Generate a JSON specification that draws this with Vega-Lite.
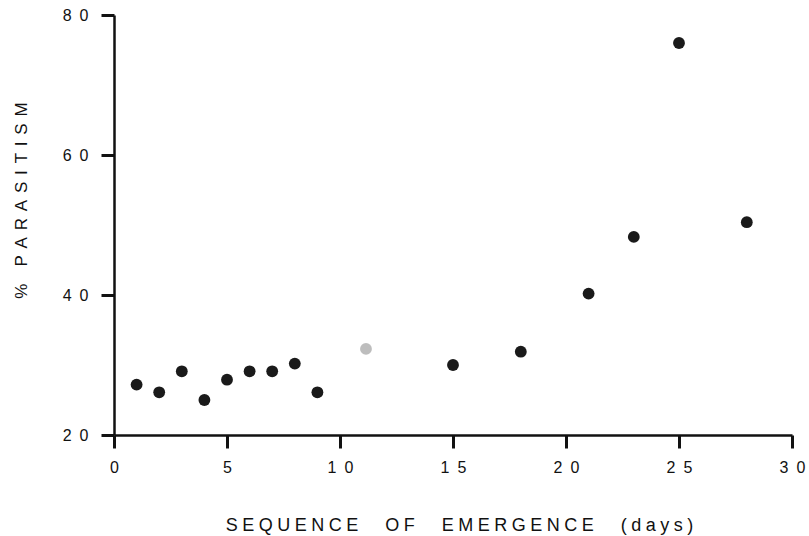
{
  "$schema": "https://vega.github.io/schema/vega-lite/v6.json",
  "width": 678,
  "height": 420,
  "autosize": {"type": "none"},
  "padding": {"left": 114, "top": 15, "right": 17, "bottom": 101},
  "background": "white",
  "config": {"view": {"stroke": null}},
  "data": {"values": [
    {"day": 1, "parasitism": 27.2, "kind": "main"},
    {"day": 2, "parasitism": 26.1, "kind": "main"},
    {"day": 3, "parasitism": 29.1, "kind": "main"},
    {"day": 4, "parasitism": 25.0, "kind": "main"},
    {"day": 5, "parasitism": 27.9, "kind": "main"},
    {"day": 6, "parasitism": 29.1, "kind": "main"},
    {"day": 7, "parasitism": 29.1, "kind": "main"},
    {"day": 8, "parasitism": 30.2, "kind": "main"},
    {"day": 9, "parasitism": 26.1, "kind": "main"},
    {"day": 11.15, "parasitism": 32.3, "kind": "faint"},
    {"day": 15, "parasitism": 30.0, "kind": "main"},
    {"day": 18, "parasitism": 31.9, "kind": "main"},
    {"day": 21, "parasitism": 40.2, "kind": "main"},
    {"day": 23, "parasitism": 48.3, "kind": "main"},
    {"day": 25, "parasitism": 76.0, "kind": "main"},
    {"day": 28, "parasitism": 50.4, "kind": "main"}
  ]},
  "mark": {"type": "point", "filled": true, "opacity": 1, "size": 140, "shape": "circle"},
  "encoding": {
    "x": {
      "field": "day", "type": "quantitative",
      "scale": {"domain": [0, 30], "nice": false, "zero": false},
      "axis": {
        "values": [0, 5, 10, 15, 20, 25, 30],
        "grid": false,
        "domainColor": "#111", "domainWidth": 2.5,
        "tickColor": "#111", "tickWidth": 3, "tickSize": 13,
        "labelFont": "Liberation Sans", "labelFontSize": 16, "labelColor": "#111",
        "labelPadding": 11, "labelFlush": false,
        "labelExpr": "join(split(datum.label, ''), '\u2002')",
        "title": "S\u2005E\u2005Q\u2005U\u2005E\u2005N\u2005C\u2005E\u2005\u2003\u2005O\u2005F\u2005\u2003\u2005E\u2005M\u2005E\u2005R\u2005G\u2005E\u2005N\u2005C\u2005E\u2005\u2003\u2005(\u2005d\u2005a\u2005y\u2005s\u2005)",
        "titleFont": "Liberation Sans", "titleFontSize": 18, "titleFontWeight": "normal", "titleColor": "#111",
        "titleX": 345, "titleY": 90, "titleAlign": "center", "titleBaseline": "middle", "titleAnchor": null
      }
    },
    "y": {
      "field": "parasitism", "type": "quantitative",
      "scale": {"domain": [20, 80], "nice": false, "zero": false},
      "axis": {
        "values": [20, 40, 60, 80],
        "grid": false,
        "domainColor": "#111", "domainWidth": 2.5,
        "tickColor": "#111", "tickWidth": 3, "tickSize": 13,
        "labelFont": "Liberation Sans", "labelFontSize": 16, "labelColor": "#111",
        "labelPadding": 13, "labelFlush": false,
        "labelExpr": "join(split(datum.label, ''), '\u2002')",
        "title": "%\u2003P\u2009\u2009A\u2009\u2009R\u2009\u2009A\u2009\u2009S\u2009\u2009I\u2009\u2009T\u2009\u2009I\u2009\u2009S\u2009\u2009M",
        "titleFont": "Liberation Sans", "titleFontSize": 17, "titleFontWeight": "normal", "titleColor": "#111",
        "titleAngle": -90, "titleX": -93, "titleY": 185, "titleAlign": "center", "titleBaseline": "middle"
      }
    },
    "color": {
      "field": "kind", "type": "nominal",
      "scale": {"domain": ["main", "faint"], "range": ["#1a1a1a", "#bdbdbd"]},
      "legend": null
    }
  }
}
